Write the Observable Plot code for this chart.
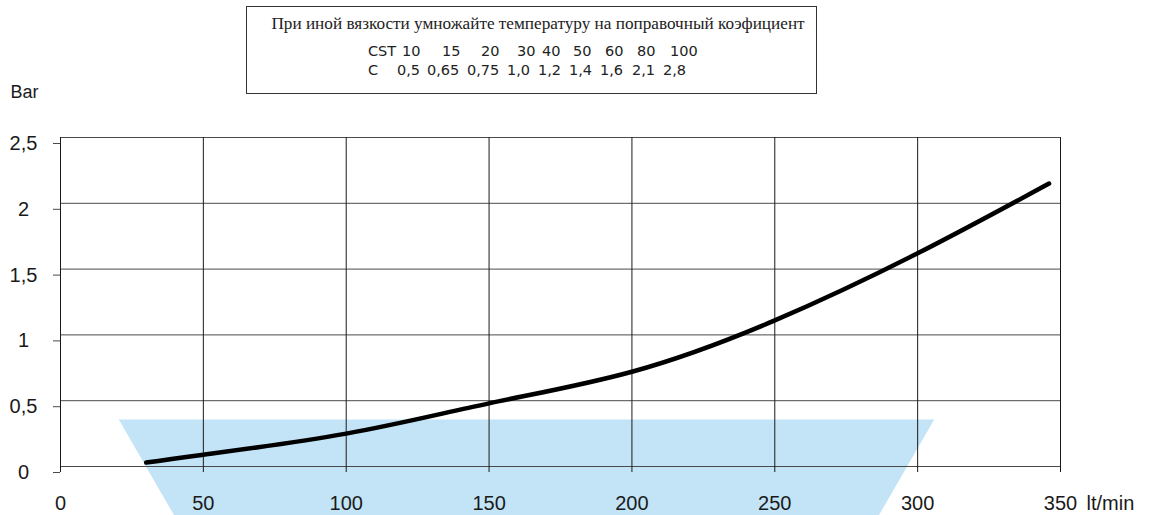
<!DOCTYPE html>
<html>
<head>
<meta charset="utf-8">
<script src="https://cdn.jsdelivr.net/npm/d3@7"></script>
<script src="https://cdn.jsdelivr.net/npm/@observablehq/plot@0.6"></script>
<style>
  html, body { margin: 0; padding: 0; background: #fff; overflow: hidden; }
  #wrap { position: relative; width: 1152px; height: 515px; }
  #note { position: absolute; left: 0; top: 0; }
</style>
</head>
<body>
<div id="wrap"></div>
<script>
// ---- data ----
const xTicks = [0, 50, 100, 150, 200, 250, 300, 350];
const yTicks = [0, 0.5, 1, 1.5, 2, 2.5];
const xUnit = "lt/min";
const yUnit = "Bar";

const flow =     [30,   50,   100,  150,  200,  250,  300,  346];
const pressure = [0.03, 0.09, 0.25, 0.48, 0.72, 1.11, 1.62, 2.15];

const zoneFlow     = [20.4, 305.8, 286.4, 39.8, 20.4];
const zonePressure = [0.357, 0.357, -0.372, -0.372, 0.357];

const noteTitle = "При иной вязкости умножайте температуру на поправочный коэфициент";
const cstLabel = "CST";
const cstValues = ["10", "15", "20", "30", "40", "50", "60", "80", "100"];
const cLabel = "C";
const cValues = ["0,5", "0,65", "0,75", "1,0", "1,2", "1,4", "1,6", "2,1", "2,8"];

// ---- layout (pixel positions of note columns) ----
const cstLeft = [368, 402, 442, 481, 517, 542, 573, 605, 637, 670];
const cLeft   = [368, 397, 427, 467, 507, 538, 569, 600, 632, 663];

const curve = flow.map((f, i) => ({f, p: pressure[i]}));
const zone = zoneFlow.map((f, i) => ({f, p: zonePressure[i]}));
const fmt = d => String(d).replace(".", ",");

const chart = Plot.plot({
  width: 1152,
  height: 515,
  marginTop: 137,
  marginBottom: 49,
  marginLeft: 60,
  marginRight: 92,
  x: {domain: [0, 350]},
  y: {domain: [0, 2.5]},
  style: {fontFamily: "'Liberation Sans', Arial, sans-serif", fontSize: "20px", color: "#222", background: "white"},
  marks: [
    Plot.line(zone, {x: "f", y: "p", fill: "#c2e4f6", stroke: "none"}),
    Plot.gridY(yTicks, {stroke: "#4a4a4a", strokeOpacity: 1, strokeWidth: 1}),
    Plot.gridX(xTicks, {stroke: "#1a1a1a", strokeOpacity: 1, strokeWidth: 1}),
    Plot.axisY({ticks: yTicks, tickSize: 7, tickPadding: 30, textAnchor: "middle", dy: 6,
      tickFormat: fmt, stroke: "#4a4a4a", fill: "#1a1a1a", fontSize: 20, label: null}),
    Plot.axisX({ticks: xTicks, tickSize: 6, tickPadding: 23, tickFormat: fmt,
      stroke: "#1a1a1a", fill: "#1a1a1a", fontSize: 20, label: null}),
    Plot.text([xUnit], {x: () => xTicks[xTicks.length - 1], frameAnchor: "bottom", dy: 29, dx: 26,
      textAnchor: "start", lineAnchor: "top", fontSize: 20, fill: "#1a1a1a"}),
    Plot.text([yUnit], {frameAnchor: "top-left", dx: -50, dy: -52, textAnchor: "start",
      lineAnchor: "top", fontSize: 18, fill: "#1a1a1a"}),
    Plot.line(curve, {x: "f", y: "p", stroke: "#000", strokeWidth: 4.5, curve: "natural"})
  ]
});
document.getElementById("wrap").appendChild(chart);

// ---- note box (overlay) ----
const note = d3.select("#wrap").append("svg")
  .attr("id", "note").attr("width", 1152).attr("height", 110);
note.append("rect").attr("x", 246.5).attr("y", 6.5).attr("width", 570).attr("height", 87)
  .attr("fill", "white").attr("stroke", "#333").attr("stroke-width", 1);
note.append("text").attr("x", 538).attr("y", 28.5).attr("text-anchor", "middle")
  .attr("font-family", "'Liberation Serif', 'Times New Roman', serif").attr("font-size", 17.2)
  .attr("fill", "#222").text(noteTitle);
const rowFont = "'DejaVu Sans', sans-serif";
[cstLabel, ...cstValues].forEach((t, i) => {
  note.append("text").attr("x", cstLeft[i]).attr("y", 56).attr("font-family", rowFont)
    .attr("font-size", 14.5).attr("fill", "#222").text(t);
});
[cLabel, ...cValues].forEach((t, i) => {
  note.append("text").attr("x", cLeft[i]).attr("y", 75).attr("font-family", rowFont)
    .attr("font-size", 14.5).attr("fill", "#222").text(t);
});
</script>
</body>
</html>
